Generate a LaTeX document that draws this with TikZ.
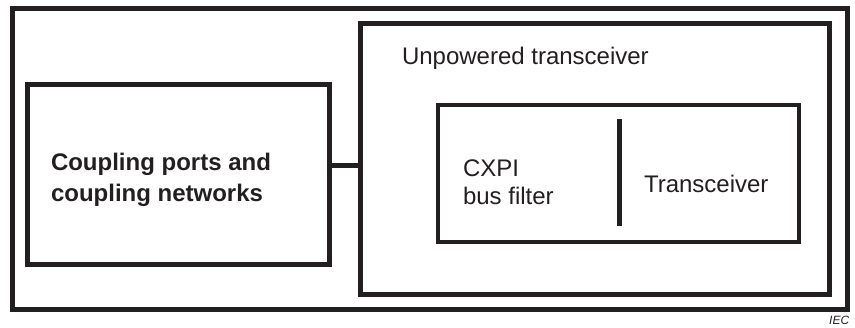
\documentclass[tikz,border=0pt]{standalone}
\usepackage{fontspec}
\setmainfont{Liberation Sans}
\definecolor{ink}{HTML}{231F20}
\begin{document}
\begin{tikzpicture}[x=1pt,y=-1pt,
  box/.style={draw=ink,line width=5pt,rectangle,inner sep=0pt,outer sep=0pt},
  thinbox/.style={draw=ink,line width=4pt,rectangle,inner sep=0pt,outer sep=0pt},
  lbl/.style={text=ink,inner sep=0pt,outer sep=0pt,font=\fontsize{24}{28}\selectfont,align=left},
  wire/.style={draw=ink,line width=5pt}]
\useasboundingbox (0,0) rectangle (855,328);
\node[box,minimum width=834.5pt,minimum height=301.5pt] (outer) at (429.75,159.25) {};
\node[box,minimum width=302pt,minimum height=180pt] (left) at (178.5,174.5) {};
\node[box,minimum width=469pt,minimum height=271pt] (unp) at (595,159.5) {};
\node[thinbox,minimum width=361pt,minimum height=137pt] (inner) at (618.5,173.5) {};
\coordinate (dtop) at (619.5,119);
\coordinate (dbot) at (619.5,226);
\draw[wire] (dtop) -- (dbot);
\coordinate (c) at (0,165.5);
\draw[wire] (left.east |- c) -- (unp.west |- c);
\node[lbl,anchor=base west] (tu) at (402,65) {Unpowered transceiver};
\node[lbl,anchor=base west] (tc) at (463,205) {CXPI\\bus filter};
\node[lbl,anchor=base west] (tt) at (644,193) {Transceiver};
\node[lbl,anchor=base west,font=\fontsize{24}{31}\selectfont\bfseries] (tp) at (51,202) {Coupling ports and\\coupling networks};
\node[text=ink,inner sep=0pt,anchor=base west,font=\fontsize{12}{12}\selectfont\itshape] (iec) at (829,325) {IEC};
\end{tikzpicture}
\end{document}
